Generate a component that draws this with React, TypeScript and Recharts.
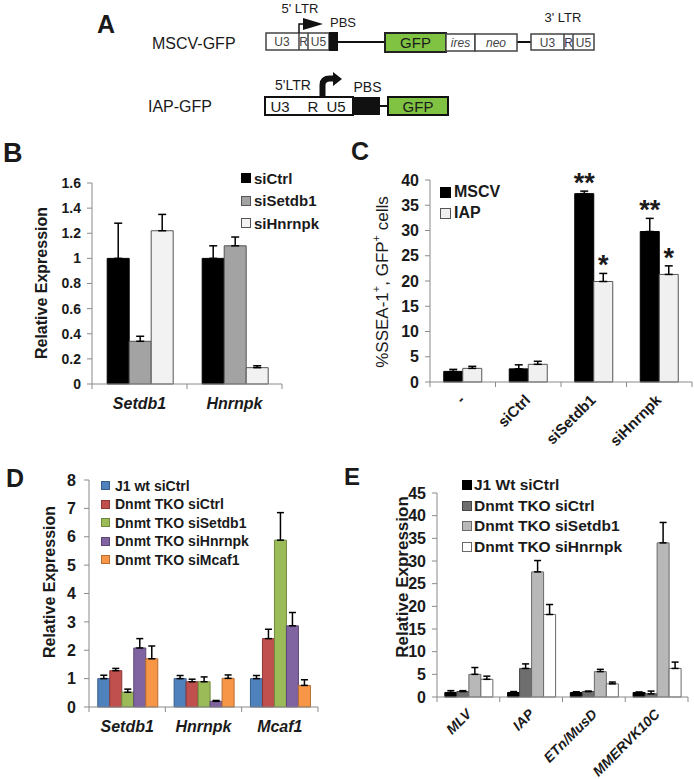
import React from 'react';
import { BarChart, Bar, XAxis, YAxis, ErrorBar, Legend, LabelList } from 'recharts';

const FONT = '"Liberation Sans", Arial, Helvetica, sans-serif';
const AXIS = '#8a8a8a';
const INK = '#1a1a1a';

// ---------------- Panel B ----------------
const bGenes = ['Setdb1', 'Hnrnpk'];
const bSiCtrl = [1.0, 1.0];
const bSiCtrlErr = [0.28, 0.1];
const bSiSetdb1 = [0.34, 1.1];
const bSiSetdb1Err = [0.04, 0.07];
const bSiHnrnpk = [1.22, 0.13];
const bSiHnrnpkErr = [0.13, 0.015];
const bTicks = [0, 0.2, 0.4, 0.6, 0.8, 1, 1.2, 1.4, 1.6];

// ---------------- Panel C ----------------
const cConditions = ['-', 'siCtrl', 'siSetdb1', 'siHnrnpk'];
const cMSCV = [2.1, 2.6, 37.3, 29.8];
const cMSCVErr = [0.4, 0.8, 0.5, 2.6];
const cIAP = [2.7, 3.5, 19.9, 21.3];
const cIAPErr = [0.4, 0.6, 1.6, 1.7];
const cMSCVSig = ['', '', '**', '**'];
const cIAPSig = ['', '', '*', '*'];
const cTicks = [0, 5, 10, 15, 20, 25, 30, 35, 40];

// ---------------- Panel D ----------------
const dGenes = ['Setdb1', 'Hnrnpk', 'Mcaf1'];
const dJ1 = [1.0, 1.0, 1.0];
const dJ1Err = [0.12, 0.11, 0.11];
const dTkoCtrl = [1.28, 0.89, 2.41];
const dTkoCtrlErr = [0.08, 0.09, 0.33];
const dTkoSetdb1 = [0.52, 0.89, 5.88];
const dTkoSetdb1Err = [0.11, 0.17, 0.97];
const dTkoHnrnpk = [2.08, 0.2, 2.86];
const dTkoHnrnpkErr = [0.33, 0.03, 0.47];
const dTkoMcaf1 = [1.7, 1.01, 0.76];
const dTkoMcaf1Err = [0.45, 0.12, 0.2];
const dTicks = [0, 1, 2, 3, 4, 5, 6, 7, 8];

// ---------------- Panel E ----------------
const eRepeats = ['MLV', 'IAP', 'ETn/MusD', 'MMERVK10C'];
const eJ1 = [1.0, 1.0, 1.0, 1.0];
const eJ1Err = [0.4, 0.2, 0.15, 0.1];
const eTkoCtrl = [1.2, 6.3, 1.2, 0.7];
const eTkoCtrlErr = [0.2, 1.0, 0.1, 0.6];
const eTkoSetdb1 = [5.0, 27.6, 5.6, 34.0];
const eTkoSetdb1Err = [1.5, 2.5, 0.5, 4.5];
const eTkoHnrnpk = [3.9, 18.2, 2.9, 6.3];
const eTkoHnrnpkErr = [0.7, 2.2, 0.4, 1.4];
const eTicks = [0, 5, 10, 15, 20, 25, 30, 35, 40, 45];

const bData = bGenes.map((g, i) => ({
  name: g,
  siCtrl: bSiCtrl[i], siCtrlErr: [0, bSiCtrlErr[i]],
  siSetdb1: bSiSetdb1[i], siSetdb1Err: [0, bSiSetdb1Err[i]],
  siHnrnpk: bSiHnrnpk[i], siHnrnpkErr: [0, bSiHnrnpkErr[i]],
}));

const cData = cConditions.map((c, i) => ({
  name: c,
  mscv: cMSCV[i], mscvErr: [0, cMSCVErr[i]], mscvSig: cMSCVSig[i],
  iap: cIAP[i], iapErr: [0, cIAPErr[i]], iapSig: cIAPSig[i],
}));

const dData = dGenes.map((g, i) => ({
  name: g,
  j1: dJ1[i], j1Err: [0, dJ1Err[i]],
  ctrl: dTkoCtrl[i], ctrlErr: [0, dTkoCtrlErr[i]],
  setdb1: dTkoSetdb1[i], setdb1Err: [0, dTkoSetdb1Err[i]],
  hnrnpk: dTkoHnrnpk[i], hnrnpkErr: [0, dTkoHnrnpkErr[i]],
  mcaf1: dTkoMcaf1[i], mcaf1Err: [0, dTkoMcaf1Err[i]],
}));

const eData = eRepeats.map((r, i) => ({
  name: r,
  j1: eJ1[i], j1Err: [0, eJ1Err[i]],
  ctrl: eTkoCtrl[i], ctrlErr: [0, eTkoCtrlErr[i]],
  setdb1: eTkoSetdb1[i], setdb1Err: [0, eTkoSetdb1Err[i]],
  hnrnpk: eTkoHnrnpk[i], hnrnpkErr: [0, eTkoHnrnpkErr[i]],
}));

type TickOpts = {
  fontSize: number;
  italic?: boolean;
  rotate?: boolean;
  dx?: number;
  dy: number;
  half: number;
  count: number;
};

const makeCatTick = (o: TickOpts) => (props: any) => {
  const { x, y, payload, index } = props;
  const half = payload && typeof payload.offset === 'number' && payload.offset > 2 ? payload.offset : o.half;
  const lx = x - half;
  const rx = x + half;
  const tx = x + (o.dx || 0);
  const ty = y + o.dy;
  return (
    <g>
      <line x1={lx} x2={lx} y1={y} y2={y + 5} stroke={AXIS} strokeWidth={1} />
      {index === o.count - 1 && <line x1={rx} x2={rx} y1={y} y2={y + 5} stroke={AXIS} strokeWidth={1} />}
      <text
        x={tx}
        y={ty}
        textAnchor={o.rotate ? 'end' : 'middle'}
        transform={o.rotate ? `rotate(-45, ${tx}, ${ty})` : undefined}
        fontFamily={FONT}
        fontSize={o.fontSize}
        fontWeight="bold"
        fontStyle={o.italic ? 'italic' : 'normal'}
        fill={INK}
      >
        {payload.value}
      </text>
    </g>
  );
};

type LegItem = { label: string; fill: string; stroke: string };

const makeLegend = (items: LegItem[], sq: number, row: number, fontSize: number, gap: number) => () => (
  <div style={{ fontFamily: FONT, fontWeight: 'bold', fontSize, color: INK, lineHeight: 1 }}>
    {items.map((it) => (
      <div key={it.label} style={{ display: 'flex', alignItems: 'center', height: row, whiteSpace: 'nowrap' }}>
        <span
          style={{
            display: 'inline-block',
            width: sq,
            height: sq,
            background: it.fill,
            border: `1px solid ${it.stroke}`,
            boxSizing: 'border-box',
            marginRight: gap,
            flex: 'none',
          }}
        />
        <span>{it.label}</span>
      </div>
    ))}
  </div>
);

const yTick = (fontSize: number) => ({ fontSize, fontWeight: 'bold', fill: INK, fontFamily: FONT });

const makeStar = (values: number[], errs: number[]) => (props: any) => {
  const vb = props.viewBox || props;
  const { x, y, width, height } = vb;
  const idx = props.index;
  const val = props.value;
  if (!val || idx == null) return null;
  const v = values[idx];
  const e = errs[idx];
  const top = y - (e * height) / v;
  return (
    <text x={x + width / 2} y={top + 1} textAnchor="middle" fontFamily={FONT} fontWeight="bold" fontSize={27} fill={INK}>
      {val}
    </text>
  );
};

const bLegend: LegItem[] = [
  { label: 'siCtrl', fill: '#000000', stroke: '#000000' },
  { label: 'siSetdb1', fill: '#a3a3a3', stroke: '#555555' },
  { label: 'siHnrnpk', fill: '#f2f2f2', stroke: '#555555' },
];
const cLegend: LegItem[] = [
  { label: 'MSCV', fill: '#000000', stroke: '#000000' },
  { label: 'IAP', fill: '#f0f0f0', stroke: '#555555' },
];
const dLegend: LegItem[] = [
  { label: 'J1 wt siCtrl', fill: '#4f81bd', stroke: '#385d8a' },
  { label: 'Dnmt TKO siCtrl', fill: '#c0504d', stroke: '#8c3836' },
  { label: 'Dnmt TKO siSetdb1', fill: '#9bbb59', stroke: '#71893f' },
  { label: 'Dnmt TKO siHnrnpk', fill: '#8064a2', stroke: '#5c4776' },
  { label: 'Dnmt TKO siMcaf1', fill: '#f79646', stroke: '#b66d31' },
];
const eLegend: LegItem[] = [
  { label: 'J1 Wt siCtrl', fill: '#000000', stroke: '#000000' },
  { label: 'Dnmt TKO siCtrl', fill: '#6e6e6e', stroke: '#444444' },
  { label: 'Dnmt TKO siSetdb1', fill: '#b8b8b8', stroke: '#6a6a6a' },
  { label: 'Dnmt TKO siHnrnpk', fill: '#ffffff', stroke: '#6a6a6a' },
];

const EB = (p: { k: string; w: number }) => null;

const PanelA = () => (
  <g fontFamily={FONT} fill={INK}>
    <text x={97} y={33} fontSize={25} fontWeight="bold">A</text>
    {/* MSCV-GFP */}
    <text x={152} y={49} fontSize={16}>MSCV-GFP</text>
    <text x={300} y={13} fontSize={13} textAnchor="middle">5&apos; LTR</text>
    <text x={330} y={27} fontSize={13}>PBS</text>
    <text x={563} y={22} fontSize={13} textAnchor="middle">3&apos; LTR</text>
    <line x1={338} x2={385} y1={42} y2={42} stroke="#111" strokeWidth={2} />
    <line x1={517} x2={531} y1={42} y2={42} stroke="#111" strokeWidth={2} />
    <rect x={266} y={33} width={63} height={17} fill="#fff" stroke="#444" strokeWidth={1.5} />
    <line x1={299} x2={299} y1={33} y2={50} stroke="#444" strokeWidth={1.5} />
    <line x1={308} x2={308} y1={33} y2={50} stroke="#444" strokeWidth={1.5} />
    <text x={282} y={46} fontSize={12} textAnchor="middle" fill="#444">U3</text>
    <text x={303.5} y={46} fontSize={12} textAnchor="middle" fill="#444">R</text>
    <text x={318.5} y={46} fontSize={12} textAnchor="middle" fill="#444">U5</text>
    <rect x={329} y={32} width={9} height={19} fill="#111" />
    <polyline points="299,33 299,24 304,24" fill="none" stroke="#111" strokeWidth={1.5} />
    <polygon points="303,18 323,24 303,30" fill="#111" />
    <rect x={385} y={33} width={61} height={19} fill="#80c342" stroke="#222" strokeWidth={2} />
    <text x={415.5} y={48} fontSize={15} textAnchor="middle">GFP</text>
    <rect x={446} y={34} width={29} height={17} fill="#fff" stroke="#444" strokeWidth={1.5} />
    <text x={460.5} y={47} fontSize={12} fontStyle="italic" textAnchor="middle" fill="#444">ires</text>
    <rect x={475} y={34} width={42} height={17} fill="#fff" stroke="#444" strokeWidth={1.5} />
    <text x={496} y={47} fontSize={12} fontStyle="italic" textAnchor="middle" fill="#444">neo</text>
    <rect x={531} y={34} width={63} height={16} fill="#fff" stroke="#444" strokeWidth={1.5} />
    <line x1={564} x2={564} y1={34} y2={50} stroke="#444" strokeWidth={1.5} />
    <line x1={573} x2={573} y1={34} y2={50} stroke="#444" strokeWidth={1.5} />
    <text x={547.5} y={46.5} fontSize={12} textAnchor="middle" fill="#444">U3</text>
    <text x={568.5} y={46.5} fontSize={12} textAnchor="middle" fill="#335">R</text>
    <text x={583.5} y={46.5} fontSize={12} textAnchor="middle" fill="#444">U5</text>
    {/* IAP-GFP */}
    <text x={148} y={112} fontSize={16}>IAP-GFP</text>
    <text x={293} y={90} fontSize={14} textAnchor="middle">5&apos;LTR</text>
    <text x={367.5} y={92} fontSize={14} textAnchor="middle">PBS</text>
    <rect x={265} y={97} width={88} height={18} fill="#fff" stroke="#111" strokeWidth={2} />
    <text x={280} y={111.5} fontSize={15} textAnchor="middle">U3</text>
    <text x={313} y={111.5} fontSize={15} textAnchor="middle">R</text>
    <text x={336} y={111.5} fontSize={15} textAnchor="middle">U5</text>
    <rect x={353} y={97} width={27} height={18} fill="#111" />
    <line x1={380} x2={388} y1={106} y2={106} stroke="#111" strokeWidth={2} />
    <rect x={388} y={97} width={60} height={18} fill="#80c342" stroke="#111" strokeWidth={2} />
    <text x={418} y={111.5} fontSize={15} textAnchor="middle">GFP</text>
    <path d="M 322.5 97 L 322.5 85 Q 322.5 78.5 330 78.5 L 334 78.5" fill="none" stroke="#111" strokeWidth={6} />
    <polygon points="333,72 342,79 333,86" fill="#111" />
  </g>
);

const Titles = () => (
  <g fontFamily={FONT} fill={INK}>
    <text x={3} y={162} fontSize={27} fontWeight="bold">B</text>
    <text x={351} y={160} fontSize={25} fontWeight="bold">C</text>
    <text x={6} y={487} fontSize={25} fontWeight="bold">D</text>
    <text x={344} y={485} fontSize={24} fontWeight="bold">E</text>
    <text x={41} y={283} fontSize={16} fontWeight="bold" textAnchor="middle" dominantBaseline="central" transform="rotate(-90, 41, 283)">
      Relative Expression
    </text>
    <text x={382} y={282} fontSize={17} textAnchor="middle" dominantBaseline="central" transform="rotate(-90, 382, 282)">
      %SSEA-1<tspan dy={-6} fontSize={11}>+</tspan>
      <tspan dy={6}>, GFP</tspan>
      <tspan dy={-6} fontSize={11}>+</tspan>
      <tspan dy={6}> cells</tspan>
    </text>
    <text x={49} y={582} fontSize={16} fontWeight="bold" textAnchor="middle" dominantBaseline="central" transform="rotate(-90, 49, 582)">
      Relative Expression
    </text>
    <text x={402} y={577} fontSize={17} fontWeight="bold" textAnchor="middle" dominantBaseline="central" transform="rotate(-90, 402, 577)">
      Relative Expression
    </text>
  </g>
);

const boxStyle = (left: number, top: number): React.CSSProperties => ({ position: 'absolute', left, top });

export default function App() {
  return (
    <div style={{ position: 'absolute', left: 0, top: 0, width: 694, height: 779, background: '#fff', overflow: 'hidden' }}>
      {/* Panel B */}
      <div style={boxStyle(0, 135)}>
        <BarChart width={340} height={325} data={bData} margin={{ top: 48, left: 52, right: 58, bottom: 46 }} barCategoryGap="16%" barGap={0}>
          <XAxis dataKey="name" height={30} tickSize={0} tickMargin={0} tickLine={false} axisLine={{ stroke: AXIS }} interval={0}
            tick={makeCatTick({ fontSize: 16, italic: true, dy: 25, half: 47.5, count: bGenes.length })} />
          <YAxis domain={[0, 1.6]} ticks={bTicks} interval={0} width={40} tickSize={5} tickMargin={6}
            axisLine={{ stroke: AXIS }} tickLine={{ stroke: AXIS }} tick={yTick(14)} />
          <Legend layout="vertical" align="center" verticalAlign="middle" content={makeLegend(bLegend, 10, 22.5, 15, 3)}
            wrapperStyle={{ left: 241, top: 32, width: 100, height: 70 }} />
          <Bar dataKey="siCtrl" fill="#000000" stroke="#000000" isAnimationActive={false}>
            <ErrorBar dataKey="siCtrlErr" width={4} strokeWidth={1.5} stroke="#000" direction="y" />
          </Bar>
          <Bar dataKey="siSetdb1" fill="#a3a3a3" stroke="#555555" isAnimationActive={false}>
            <ErrorBar dataKey="siSetdb1Err" width={4} strokeWidth={1.5} stroke="#000" direction="y" />
          </Bar>
          <Bar dataKey="siHnrnpk" fill="#f2f2f2" stroke="#555555" isAnimationActive={false}>
            <ErrorBar dataKey="siHnrnpkErr" width={4} strokeWidth={1.5} stroke="#000" direction="y" />
          </Bar>
        </BarChart>
      </div>

      {/* Panel C */}
      <div style={boxStyle(340, 135)}>
        <BarChart width={354} height={325} data={cData} margin={{ top: 45, left: 50, right: 2, bottom: 48 }} barCategoryGap="21%" barGap={0}>
          <XAxis dataKey="name" height={30} tickSize={0} tickMargin={0} tickLine={false} axisLine={{ stroke: AXIS }} interval={0}
            tick={makeCatTick({ fontSize: 15, rotate: true, dx: 3, dy: 19, half: 32.75, count: cConditions.length })} />
          <YAxis domain={[0, 40]} ticks={cTicks} interval={0} width={40} tickSize={5} tickMargin={6}
            axisLine={{ stroke: AXIS }} tickLine={{ stroke: AXIS }} tick={yTick(16)} />
          <Legend layout="vertical" align="center" verticalAlign="middle" content={makeLegend(cLegend, 11, 21, 16, 3)}
            wrapperStyle={{ left: 100, top: 46.5, width: 80, height: 42 }} />
          <Bar dataKey="mscv" fill="#000000" stroke="#000000" isAnimationActive={false}>
            <ErrorBar dataKey="mscvErr" width={4} strokeWidth={1.5} stroke="#000" direction="y" />
            <LabelList dataKey="mscvSig" content={makeStar(cMSCV, cMSCVErr)} />
          </Bar>
          <Bar dataKey="iap" fill="#f0f0f0" stroke="#555555" isAnimationActive={false}>
            <ErrorBar dataKey="iapErr" width={4} strokeWidth={1.5} stroke="#000" direction="y" />
            <LabelList dataKey="iapSig" content={makeStar(cIAP, cIAPErr)} />
          </Bar>
        </BarChart>
      </div>

      {/* Panel D */}
      <div style={boxStyle(0, 460)}>
        <BarChart width={340} height={319} data={dData} margin={{ top: 20, left: 49, right: 22, bottom: 42 }} barCategoryGap="11.5%" barGap={0}>
          <XAxis dataKey="name" height={30} tickSize={0} tickMargin={0} tickLine={false} axisLine={{ stroke: AXIS }} interval={0}
            tick={makeCatTick({ fontSize: 16, italic: true, dy: 25, half: 38.2, count: dGenes.length })} />
          <YAxis domain={[0, 8]} ticks={dTicks} interval={0} width={40} tickSize={5} tickMargin={8}
            axisLine={{ stroke: AXIS }} tickLine={{ stroke: AXIS }} tick={yTick(16)} />
          <Legend layout="vertical" align="center" verticalAlign="middle" content={makeLegend(dLegend, 9, 18.5, 14, 5)}
            wrapperStyle={{ left: 101, top: 16.5, width: 160, height: 95 }} />
          <Bar dataKey="j1" fill="#4f81bd" stroke="#385d8a" isAnimationActive={false}>
            <ErrorBar dataKey="j1Err" width={3.5} strokeWidth={1.5} stroke="#000" direction="y" />
          </Bar>
          <Bar dataKey="ctrl" fill="#c0504d" stroke="#8c3836" isAnimationActive={false}>
            <ErrorBar dataKey="ctrlErr" width={3.5} strokeWidth={1.5} stroke="#000" direction="y" />
          </Bar>
          <Bar dataKey="setdb1" fill="#9bbb59" stroke="#71893f" isAnimationActive={false}>
            <ErrorBar dataKey="setdb1Err" width={3.5} strokeWidth={1.5} stroke="#000" direction="y" />
          </Bar>
          <Bar dataKey="hnrnpk" fill="#8064a2" stroke="#5c4776" isAnimationActive={false}>
            <ErrorBar dataKey="hnrnpkErr" width={3.5} strokeWidth={1.5} stroke="#000" direction="y" />
          </Bar>
          <Bar dataKey="mcaf1" fill="#f79646" stroke="#b66d31" isAnimationActive={false}>
            <ErrorBar dataKey="mcaf1Err" width={3.5} strokeWidth={1.5} stroke="#000" direction="y" />
          </Bar>
        </BarChart>
      </div>

      {/* Panel E */}
      <div style={boxStyle(340, 460)}>
        <BarChart width={354} height={319} data={eData} margin={{ top: 33, left: 57, right: 6, bottom: 52 }} barCategoryGap="12.5%" barGap={0}>
          <XAxis dataKey="name" height={30} tickSize={0} tickMargin={0} tickLine={false} axisLine={{ stroke: AXIS }} interval={0}
            tick={makeCatTick({ fontSize: 14, italic: true, rotate: true, dx: 4, dy: 18, half: 31.4, count: eRepeats.length })} />
          <YAxis domain={[0, 45]} ticks={eTicks} interval={0} width={40} tickSize={5} tickMargin={6}
            axisLine={{ stroke: AXIS }} tickLine={{ stroke: AXIS }} tick={yTick(16)} />
          <Legend layout="vertical" align="center" verticalAlign="middle" content={makeLegend(eLegend, 10, 20.7, 15.5, 2)}
            wrapperStyle={{ left: 122, top: 14.5, width: 180, height: 84 }} />
          <Bar dataKey="j1" fill="#000000" stroke="#000000" isAnimationActive={false}>
            <ErrorBar dataKey="j1Err" width={3.5} strokeWidth={1.5} stroke="#000" direction="y" />
          </Bar>
          <Bar dataKey="ctrl" fill="#6e6e6e" stroke="#444444" isAnimationActive={false}>
            <ErrorBar dataKey="ctrlErr" width={3.5} strokeWidth={1.5} stroke="#000" direction="y" />
          </Bar>
          <Bar dataKey="setdb1" fill="#b8b8b8" stroke="#6a6a6a" isAnimationActive={false}>
            <ErrorBar dataKey="setdb1Err" width={3.5} strokeWidth={1.5} stroke="#000" direction="y" />
          </Bar>
          <Bar dataKey="hnrnpk" fill="#ffffff" stroke="#6a6a6a" isAnimationActive={false}>
            <ErrorBar dataKey="hnrnpkErr" width={3.5} strokeWidth={1.5} stroke="#000" direction="y" />
          </Bar>
        </BarChart>
      </div>

      {/* Schematic (panel A), panel letters and axis titles */}
      <svg width={694} height={779} style={{ position: 'absolute', left: 0, top: 0, pointerEvents: 'none' }}>
        <PanelA />
        <Titles />
      </svg>
    </div>
  );
}
